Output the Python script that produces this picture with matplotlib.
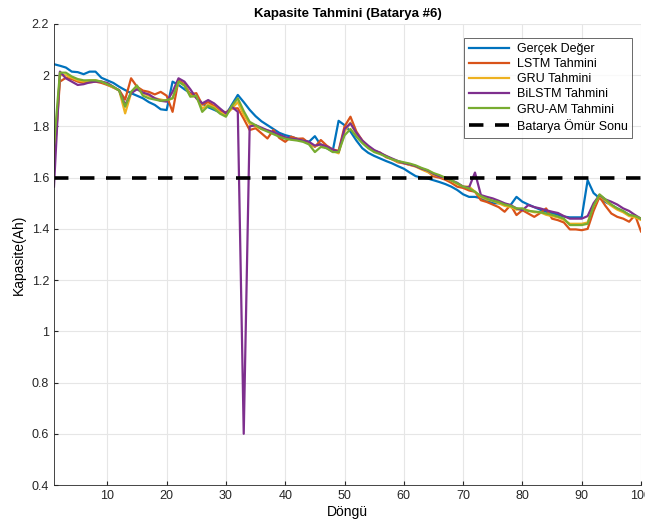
import numpy as np
import matplotlib
matplotlib.use("Agg")
import matplotlib.pyplot as plt

plt.rcParams["font.family"] = ["Liberation Sans", "DejaVu Sans"]

cycles = list(range(1, 101))

gercek = [
    2.043, 2.037, 2.03, 2.014, 2.012, 2.004, 2.014, 2.014, 1.99, 1.98,
    1.97, 1.955, 1.942, 1.93, 1.92, 1.91, 1.895, 1.884, 1.867, 1.864,
    1.975, 1.962, 1.945, 1.93, 1.915, 1.89, 1.875, 1.865, 1.855, 1.845,
    1.885, 1.923, 1.895, 1.865, 1.84, 1.82, 1.805, 1.79, 1.775, 1.766,
    1.76, 1.752, 1.745, 1.74, 1.762, 1.727, 1.715, 1.703, 1.822, 1.805,
    1.78, 1.745, 1.715, 1.697, 1.685, 1.675, 1.665, 1.656, 1.645, 1.635,
    1.62, 1.606, 1.60, 1.597, 1.59, 1.583, 1.575, 1.565, 1.552, 1.535,
    1.525, 1.525, 1.52, 1.51, 1.50, 1.50, 1.495, 1.493, 1.525, 1.506,
    1.495, 1.485, 1.475, 1.467, 1.462, 1.455, 1.448, 1.445, 1.445, 1.445,
    1.59, 1.54, 1.52, 1.505, 1.493, 1.48, 1.468, 1.455, 1.447, 1.44,
]

lstm = [
    1.657, 1.975, 1.99, 1.985, 1.975, 1.97, 1.972, 1.975, 1.97, 1.962,
    1.952, 1.942, 1.905, 1.988, 1.955, 1.94, 1.935, 1.925, 1.935, 1.92,
    1.857, 1.98, 1.965, 1.925, 1.93, 1.885, 1.895, 1.88, 1.86, 1.855,
    1.87, 1.871, 1.83, 1.786, 1.793, 1.773, 1.753, 1.786, 1.755, 1.74,
    1.76, 1.752, 1.753, 1.735, 1.72, 1.747, 1.725, 1.71, 1.705, 1.80,
    1.838, 1.78, 1.745, 1.72, 1.705, 1.698, 1.68, 1.672, 1.66, 1.656,
    1.65, 1.645, 1.635, 1.625, 1.605, 1.60, 1.592, 1.58, 1.565, 1.56,
    1.55, 1.545, 1.512, 1.505, 1.495, 1.485, 1.467, 1.493, 1.454, 1.473,
    1.46, 1.447, 1.462, 1.48, 1.44, 1.434, 1.425, 1.398, 1.398, 1.395,
    1.40, 1.47, 1.525, 1.49, 1.46, 1.447, 1.44, 1.428, 1.454, 1.39,
]

gru = [
    1.65, 2.0, 2.0, 1.99, 1.98, 1.975, 1.98, 1.98, 1.975, 1.965,
    1.952, 1.94, 1.851, 1.93, 1.95, 1.93, 1.92, 1.91, 1.905, 1.90,
    1.91, 1.975, 1.96, 1.92, 1.915, 1.87, 1.885, 1.875, 1.855, 1.845,
    1.87, 1.895, 1.845, 1.81, 1.80, 1.79, 1.785, 1.775, 1.765, 1.755,
    1.75, 1.748, 1.745, 1.735, 1.722, 1.73, 1.72, 1.705, 1.695, 1.78,
    1.815, 1.77, 1.745, 1.72, 1.705, 1.695, 1.685, 1.672, 1.662, 1.657,
    1.65, 1.643, 1.632, 1.622, 1.612, 1.605, 1.598, 1.588, 1.575, 1.565,
    1.565, 1.545, 1.525, 1.515, 1.51, 1.50, 1.49, 1.485, 1.475, 1.478,
    1.472, 1.465, 1.465, 1.455, 1.45, 1.445, 1.435, 1.42, 1.42, 1.42,
    1.425, 1.49, 1.53, 1.51, 1.49, 1.475, 1.465, 1.45, 1.445, 1.435,
]

bilstm = [
    1.565, 2.014, 1.988, 1.975, 1.962, 1.965, 1.972, 1.975, 1.975, 1.97,
    1.955, 1.94, 1.884, 1.93, 1.945, 1.932, 1.925, 1.91, 1.90, 1.897,
    1.935, 1.988, 1.975, 1.945, 1.91, 1.89, 1.903, 1.89, 1.87, 1.851,
    1.877, 1.857, 0.60, 1.80, 1.805, 1.795, 1.785, 1.778, 1.768, 1.758,
    1.752, 1.75, 1.745, 1.74, 1.725, 1.73, 1.722, 1.71, 1.70, 1.79,
    1.812, 1.775, 1.745, 1.725, 1.708, 1.697, 1.685, 1.675, 1.665, 1.657,
    1.652, 1.645, 1.635, 1.628, 1.615, 1.605, 1.60, 1.59, 1.58, 1.565,
    1.562, 1.62, 1.532, 1.525, 1.519, 1.51, 1.50, 1.493, 1.48, 1.473,
    1.493, 1.485, 1.48, 1.473, 1.467, 1.462, 1.45, 1.44, 1.44, 1.44,
    1.45, 1.50, 1.532, 1.515, 1.506, 1.495, 1.48, 1.47, 1.454, 1.44,
]

gru_am = [
    1.727, 2.01, 2.01, 1.995, 1.985, 1.98, 1.98, 1.98, 1.975, 1.965,
    1.955, 1.94, 1.877, 1.935, 1.96, 1.92, 1.91, 1.905, 1.90, 1.903,
    1.91, 1.975, 1.96, 1.916, 1.92, 1.857, 1.88, 1.87, 1.85, 1.838,
    1.88, 1.91, 1.86, 1.818, 1.805, 1.79, 1.78, 1.77, 1.76, 1.752,
    1.748, 1.745, 1.74, 1.73, 1.70, 1.72, 1.715, 1.70, 1.70, 1.765,
    1.79, 1.76, 1.735, 1.715, 1.70, 1.692, 1.682, 1.672, 1.665, 1.66,
    1.655, 1.648, 1.638, 1.63, 1.618, 1.61, 1.60, 1.59, 1.578, 1.565,
    1.558, 1.545, 1.528, 1.518, 1.51, 1.505, 1.495, 1.49, 1.48, 1.48,
    1.47, 1.468, 1.465, 1.46, 1.455, 1.448, 1.44, 1.415, 1.415, 1.415,
    1.42, 1.49, 1.535, 1.515, 1.495, 1.48, 1.47, 1.455, 1.45, 1.44,
]

eol = 1.6
xticks = list(range(10, 101, 10))
yticks = [0.4, 0.6, 0.8, 1.0, 1.2, 1.4, 1.6, 1.8, 2.0, 2.2]
ytick_labels = ["0.4", "0.6", "0.8", "1", "1.2", "1.4", "1.6", "1.8", "2", "2.2"]

fig = plt.figure(figsize=(6.45, 5.32), dpi=100)
ax = fig.add_axes([0.0837, 0.0883, 0.9101, 0.8666])

lw = 1.6
ax.plot(cycles, gercek, color="#0072BD", lw=lw, label="Gerçek Değer")
ax.plot(cycles, lstm, color="#D95319", lw=lw, label="LSTM Tahmini")
ax.plot(cycles, gru, color="#EDB120", lw=lw, label="GRU Tahmini")
ax.plot(cycles, bilstm, color="#7E2F8E", lw=lw, label="BiLSTM Tahmini")
ax.plot(cycles, gru_am, color="#77AC30", lw=lw, label="GRU-AM Tahmini")
ax.axhline(eol, color="black", lw=2.6, ls=(0, (4, 3.2)), label="Batarya Ömür Sonu")

ax.set_xlim(1, 100)
ax.set_ylim(0.4, 2.2)
ax.set_xticks(xticks)
ax.set_yticks(yticks)
ax.set_yticklabels(ytick_labels)
ax.tick_params(direction="in", labelsize=9, colors="#262626", length=3)
ax.grid(True, color="#e6e6e6", lw=0.8)
ax.set_axisbelow(True)
for s in ("top", "right"):
    ax.spines[s].set_visible(False)
for s in ("left", "bottom"):
    ax.spines[s].set_color("#262626")
    ax.spines[s].set_linewidth(0.6)

ax.set_title("Kapasite Tahmini (Batarya #6)", fontsize=9.5, fontweight="bold", pad=5)
ax.set_xlabel("Döngü", fontsize=10, labelpad=2)
ax.set_ylabel("Kapasite(Ah)", fontsize=10, labelpad=4)

leg = ax.legend(loc="upper right", bbox_to_anchor=(0.996, 0.983), fontsize=9,
                frameon=True, fancybox=False, handlelength=3.2, borderpad=0.4,
                labelspacing=0.25, handletextpad=0.6)
leg.get_frame().set_edgecolor("#262626")
leg.get_frame().set_linewidth(0.6)

fig.savefig("out.png", dpi=100)
